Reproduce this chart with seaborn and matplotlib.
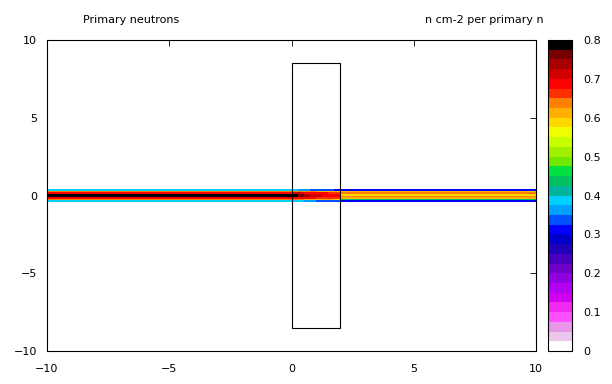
import numpy as np
import matplotlib
matplotlib.use("Agg")
import matplotlib.pyplot as plt
from matplotlib.colors import ListedColormap, BoundaryNorm
from matplotlib.patches import Rectangle
import seaborn as sns

sns.set_style("white")
plt.rcParams['font.family'] = ['DejaVu Sans']
plt.rcParams['text.color'] = 'black'
plt.rcParams['xtick.color'] = 'black'
plt.rcParams['ytick.color'] = 'black'

# ---- data ----
title_left = "Primary neutrons"
title_right = "n cm-2 per primary n"

x_edges = [-10, 0, 0.25, 0.5, 0.75, 1.0, 1.25, 1.5, 1.75, 2.0, 10]
y_edges = [-0.4, -0.3, -0.2, -0.1, 0.0, 0.1, 0.2, 0.3, 0.4]

# rows from bottom (y=-0.35) to top (y=0.35); columns follow x_edges
row_m035 = [0.385, 0.385, 0.38, 0.37, 0.36, 0.35, 0.35, 0.34, 0.33, 0.31]
row_m025 = [0.63, 0.63, 0.63, 0.62, 0.62, 0.62, 0.61, 0.61, 0.60, 0.44]
row_m015 = [0.70, 0.70, 0.69, 0.69, 0.68, 0.67, 0.67, 0.66, 0.65, 0.61]
row_m005 = [0.79, 0.79, 0.76, 0.74, 0.72, 0.71, 0.70, 0.69, 0.68, 0.63]
row_p005 = [0.79, 0.79, 0.76, 0.74, 0.72, 0.71, 0.70, 0.69, 0.68, 0.59]
row_p015 = [0.70, 0.72, 0.71, 0.70, 0.69, 0.68, 0.68, 0.67, 0.66, 0.63]
row_p025 = [0.63, 0.64, 0.64, 0.63, 0.63, 0.62, 0.62, 0.62, 0.62, 0.61]
row_p035 = [0.385, 0.38, 0.37, 0.36, 0.35, 0.34, 0.33, 0.33, 0.32, 0.31]
fluence = [row_m035, row_m025, row_m015, row_m005, row_p005, row_p015, row_p025, row_p035]

target_x = [0, 2]
target_y = [-8.5, 8.5]

cbar_ticks = [0, 0.1, 0.2, 0.3, 0.4, 0.5, 0.6, 0.7, 0.8]
cbar_labels = ["0", "0.1", "0.2", "0.3", "0.4", "0.5", "0.6", "0.7", "0.8"]
axis_ticks = [-10, -5, 0, 5, 10]

palette = ["#ffffff", "#ebc8eb", "#e896e8", "#ff50ff", "#f028f0", "#d200f0",
           "#b400f0", "#9000e0", "#7000c8", "#4800c0", "#2000b8", "#0000c8",
           "#0000ff", "#0050ff", "#00a0ff", "#00d0ff", "#00b4a0", "#00c060",
           "#00e040", "#70e800", "#a0f000", "#c8ff00", "#f0ff00", "#ffd800",
           "#ffb000", "#ff8000", "#ff3000", "#ff0000", "#d00000", "#a80000",
           "#780000", "#000000"]

# ---- figure ----
fig = plt.figure(figsize=(6.12, 3.84), dpi=100)
ax = fig.add_axes([47/612, 1-351/384, (536-47)/612, (351-40)/384])
cax = fig.add_axes([548/612, 1-351/384, 24/612, (351-40)/384])

cmap = ListedColormap(palette)
bounds = np.linspace(0, 0.8, len(palette) + 1)
norm = BoundaryNorm(bounds, cmap.N)

X, Y = np.meshgrid(np.array(x_edges), np.array(y_edges))
mesh = ax.pcolormesh(X, Y, np.array(fluence), cmap=cmap, norm=norm,
                     shading='flat', edgecolors='none', antialiased=False)

ax.add_patch(Rectangle((target_x[0], target_y[0]), target_x[1]-target_x[0],
                       target_y[1]-target_y[0], fill=False, ec='black', lw=0.8))

ax.set_xlim(-10, 10)
ax.set_ylim(-10, 10)
ax.set_xticks(axis_ticks)
ax.set_yticks(axis_ticks)
ax.tick_params(direction='in', top=True, right=True, length=4, width=0.6,
               labelsize=8, colors='black')
ax.tick_params(axis='x', pad=9)
ax.tick_params(axis='y', pad=7)
for s in ax.spines.values():
    s.set_linewidth(0.8)
    s.set_color('black')

cb = fig.colorbar(mesh, cax=cax, boundaries=bounds, ticks=cbar_ticks)
cb.minorticks_off()
cb.outline.set_linewidth(0.8)
cb.outline.set_edgecolor('black')
cax.yaxis.set_ticks_position('both')
cax.tick_params(direction='in', length=4, width=0.6, labelsize=8, pad=8,
                left=True, right=True, labelleft=False, labelright=True, colors='black')
cax.set_yticklabels(cbar_labels)

fig.text(131/612, 1-20/384, title_left, ha='center', va='center', fontsize=8)
fig.text(544/612, 1-20/384, title_right, ha='right', va='center', fontsize=8)

fig.savefig("out.png", dpi=100)
